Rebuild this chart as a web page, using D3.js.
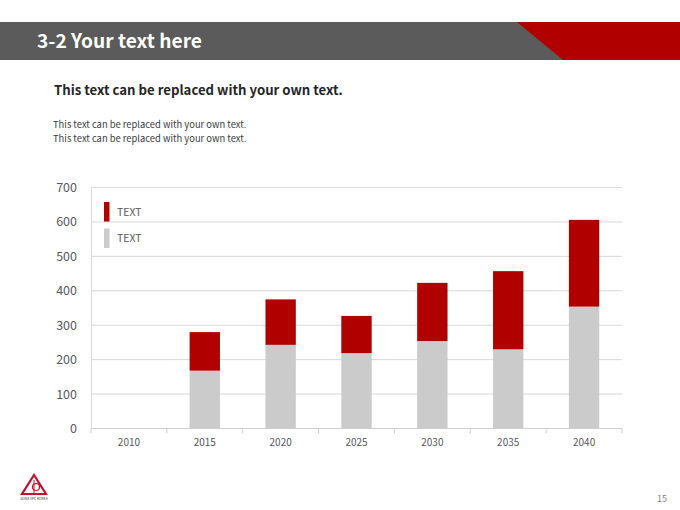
<!DOCTYPE html>
<html>
<head>
<meta charset="utf-8">
<script src="https://cdn.jsdelivr.net/npm/d3@7/dist/d3.min.js"></script>
<style>
  html, body { margin: 0; padding: 0; background: #fff; }
  svg { display: block; }
  text { font-family: "Noto Sans CJK KR", "Noto Sans", sans-serif; }
</style>
</head>
<body>
<svg id="chart" width="680" height="510"></svg>
<script>
const years = ["2010", "2015", "2020", "2025", "2030", "2035", "2040"];
const grayValues = [0, 168, 243, 219, 254, 230, 354];
const redValues = [0, 112, 132, 108, 169, 227, 252];
const yTicks = [0, 100, 200, 300, 400, 500, 600, 700];
const legendLabels = ["TEXT", "TEXT"];

const RED = "#b00000", GRAY = "#cbcbcb", TXT = "#595959";
const svg = d3.select("#chart");

// header band
svg.append("rect").attr("x", 0).attr("y", 22).attr("width", 680).attr("height", 38).attr("fill", "#5b5b5b");
svg.append("polygon").attr("points", "517,22 680,22 680,60 563,60").attr("fill", RED);
svg.append("text").attr("x", 37).attr("y", 48).attr("fill", "#fff")
  .attr("font-size", 19.2).attr("font-weight", "bold").text("3-2 Your text here");

svg.append("text").attr("x", 54).attr("y", 95).attr("fill", "#262626")
  .attr("font-size", 13.2).attr("font-weight", "bold").text("This text can be replaced with your own text.");
svg.append("text").attr("x", 53).attr("y", 128).attr("fill", "#404040")
  .attr("font-size", 9.4).text("This text can be replaced with your own text.");
svg.append("text").attr("x", 53).attr("y", 142).attr("fill", "#404040")
  .attr("font-size", 9.4).text("This text can be replaced with your own text.");

// scales
const x = d3.scaleBand().domain(years).range([91, 622]).paddingInner(0.6).paddingOuter(0.3);
const y = d3.scaleLinear().domain([0, 700]).range([428.5, 187.5]);

// grid
svg.append("g").selectAll("line").data(yTicks.filter(d => d > 0)).join("line")
  .attr("x1", 91).attr("x2", 622).attr("y1", d => y(d)).attr("y2", d => y(d))
  .attr("stroke", "#d9d9d9").attr("stroke-width", 1);

// y axis labels
const yAxis = d3.axisLeft(y).tickValues(yTicks).tickSize(0).tickPadding(14);
const yg = svg.append("g").attr("transform", "translate(91,0)").call(yAxis);
yg.select(".domain").attr("stroke", "#d9d9d9");
yg.selectAll("text").attr("fill", TXT).attr("font-size", 12.5)
  .attr("font-family", "'Noto Sans CJK KR', 'Noto Sans', sans-serif");

// x axis
const xAxis = d3.axisBottom(x).tickSize(0).tickPadding(10);
const xg = svg.append("g").attr("transform", `translate(0,${y(0)})`).call(xAxis);
xg.select(".domain").remove();
xg.selectAll("text").attr("fill", TXT).attr("font-size", 10)
  .attr("font-family", "'Noto Sans CJK KR', 'Noto Sans', sans-serif");
svg.append("line").attr("x1", 91).attr("x2", 622).attr("y1", y(0)).attr("y2", y(0))
  .attr("stroke", "#d0d0d0");
const step = x.step();
svg.append("g").selectAll("line").data(d3.range(years.length + 1)).join("line")
  .attr("x1", i => x.range()[0] + i * step).attr("x2", i => x.range()[0] + i * step)
  .attr("y1", y(0)).attr("y2", y(0) + 5).attr("stroke", "#d0d0d0");

// bars
const data = years.map((yr, i) => ({ yr, g: grayValues[i], r: redValues[i] }));
svg.append("g").selectAll("rect").data(data).join("rect")
  .attr("x", d => x(d.yr)).attr("width", x.bandwidth())
  .attr("y", d => y(d.g)).attr("height", d => y(0) - y(d.g)).attr("fill", GRAY);
svg.append("g").selectAll("rect").data(data).join("rect")
  .attr("x", d => x(d.yr)).attr("width", x.bandwidth())
  .attr("y", d => y(d.g + d.r)).attr("height", d => y(d.g) - y(d.g + d.r)).attr("fill", RED);

// legend
const legColors = [RED, GRAY];
legendLabels.forEach((lab, i) => {
  svg.append("rect").attr("x", 104).attr("y", 202 + i * 26.5).attr("width", 5.5).attr("height", 19.5)
    .attr("fill", legColors[i]);
  svg.append("text").attr("x", 117).attr("y", 215.5 + i * 26.5).attr("fill", TXT)
    .attr("font-size", 10.5).text(lab);
});

// logo
const lg = svg.append("g");
lg.append("polygon").attr("points", "34,475 46,494 22,494").attr("fill", "none").attr("stroke", "#c8102e").attr("stroke-width", 2.2);
lg.append("circle").attr("cx", 36).attr("cy", 487).attr("r", 3.5).attr("fill", "none").attr("stroke", "#c8102e").attr("stroke-width", 1.2);
lg.append("line").attr("x1", 34).attr("x2", 34).attr("y1", 480).attr("y2", 494).attr("stroke", "#c8102e").attr("stroke-width", 1);
lg.append("text").attr("x", 34).attr("y", 499.5).attr("text-anchor", "middle").attr("font-size", 3.4)
  .attr("fill", "#333").text("SONA VPC KOREA");

svg.append("text").attr("x", 667).attr("y", 502).attr("text-anchor", "end").attr("fill", "#7f7f7f")
  .attr("font-size", 9).text("15");
</script>
</body>
</html>
